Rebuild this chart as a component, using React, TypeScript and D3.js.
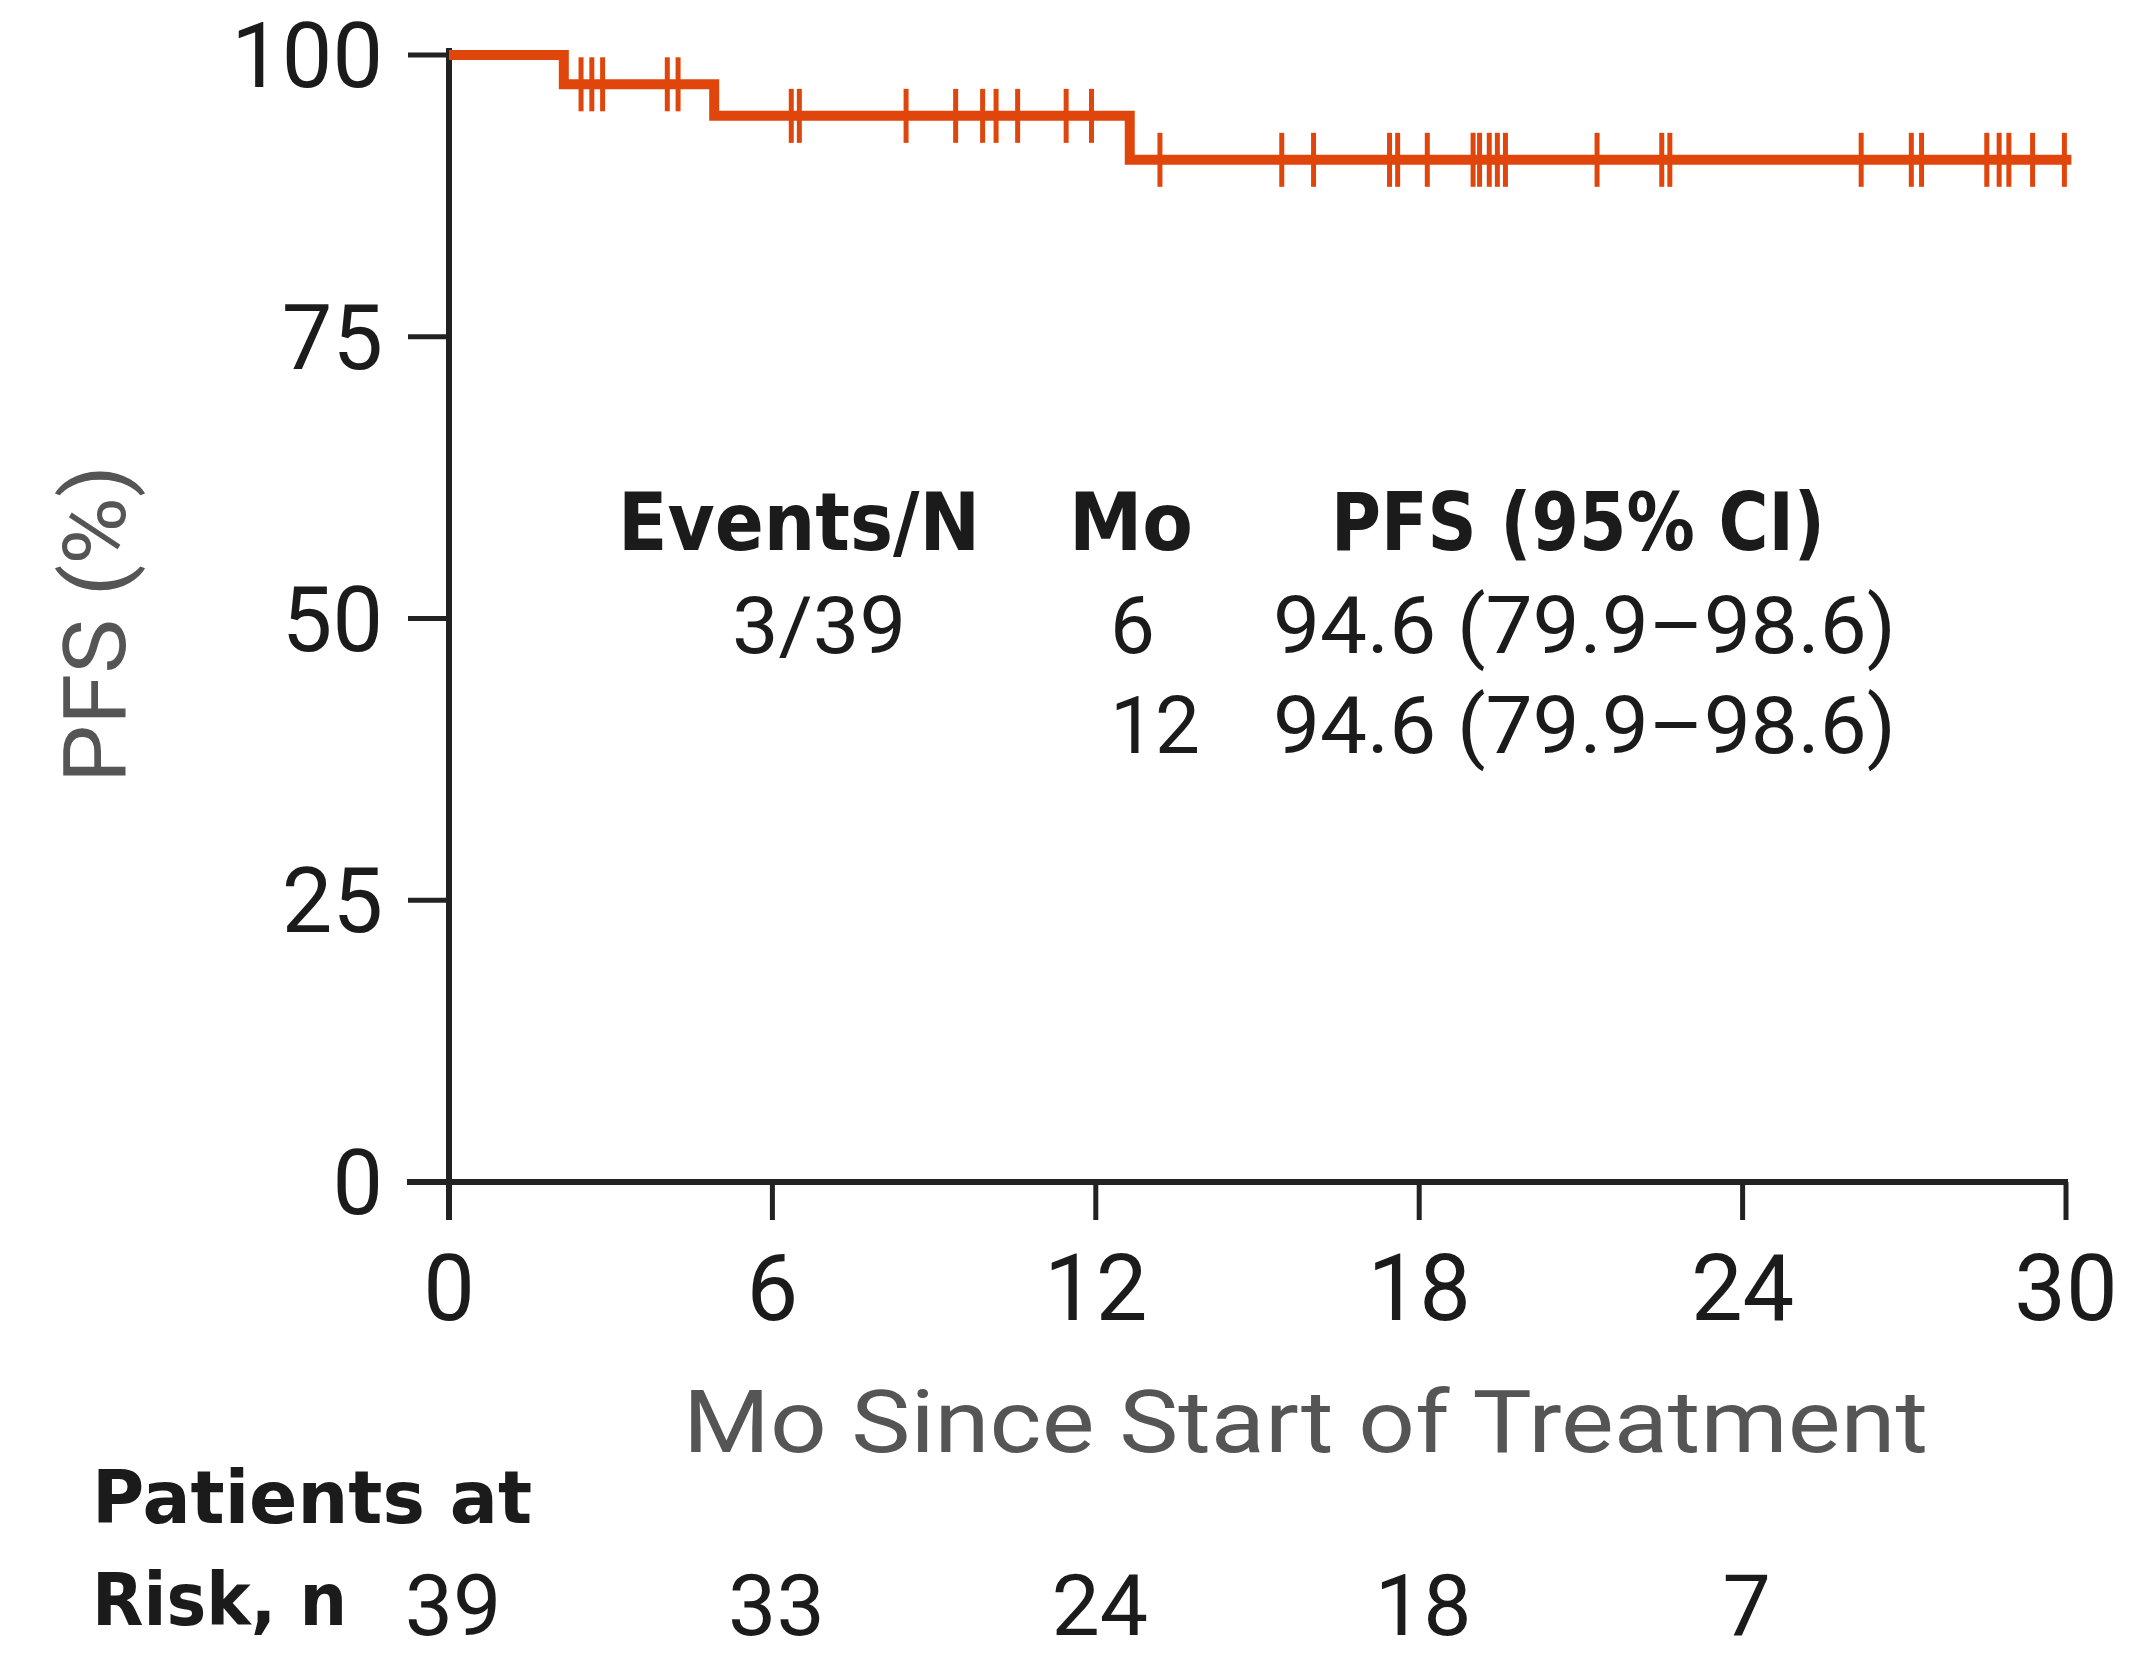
import React from "react";
import * as d3 from "d3";

const xTicks = [0, 6, 12, 18, 24, 30];
const yTicks = [0, 25, 50, 75, 100];
const eventTimes = [2.13, 4.92, 12.63];
const survivalAfterEvent = [97.4, 94.6, 90.7];
const followUpEnd = 30.1;
const censorTimes = [
  2.45, 2.65, 2.85, 4.05, 4.25,
  6.35, 6.5, 8.48, 9.4, 9.9, 10.15, 10.55, 11.45, 11.92,
  13.19, 15.45, 16.04, 17.45, 17.6, 18.15, 19.0, 19.12, 19.3, 19.45, 19.6,
  21.3, 22.5, 22.65, 26.2, 27.13, 27.32, 28.53, 28.76, 28.94, 29.38, 29.97,
];
const riskTimes = [0, 6, 12, 18, 24];
const riskCounts = [39, 33, 24, 18, 7];
const tableHeaders = ["Events/N", "Mo", "PFS (95% CI)"];
const tableEvents = ["3/39"];
const tableMonths = ["6", "12"];
const tablePfs = ["94.6 (79.9–98.6)", "94.6 (79.9–98.6)"];

const ORANGE = "#E0460B";
const AXIS = "#222222";
const TEXT = "#1b1b1b";
const GRAY = "#555555";
const REG = "Roboto, 'Liberation Sans', sans-serif";
const BOLD = "'DejaVu Sans', 'Noto Sans', sans-serif";

export default function App() {
  const x = d3.scaleLinear().domain([0, 30]).range([449, 2066]);
  const y = d3.scaleLinear().domain([0, 100]).range([1182, 55]);

  const survivalAt = (t: number) => {
    let s = 100;
    eventTimes.forEach((et, i) => {
      if (t >= et) s = survivalAfterEvent[i];
    });
    return s;
  };

  const pts: [number, number][] = [[0, 100]];
  eventTimes.forEach((t, i) => pts.push([t, survivalAfterEvent[i]]));
  pts.push([followUpEnd, survivalAfterEvent[survivalAfterEvent.length - 1]]);
  const line = d3
    .line<[number, number]>()
    .x((d) => x(d[0]))
    .y((d) => y(d[1]))
    .curve(d3.curveStepAfter);

  const markHalf = 27;

  return (
    <div>
      <style>{`body{margin:0}`}</style>
      <svg width={2151} height={1658} style={{ display: "block" }}>
        <rect width={2151} height={1658} fill="#ffffff" />
        {yTicks.map((t) => (
          <g key={"y" + t}>
            <line x1={408} x2={x(0)} y1={y(t)} y2={y(t)} stroke={AXIS} strokeWidth={5} />
            <text x={383} y={y(t) + 32} textAnchor="end" fontFamily={REG} fontSize={90} fill={TEXT}>
              {t}
            </text>
          </g>
        ))}
        {xTicks.map((t) => (
          <g key={"x" + t}>
            <line x1={x(t)} x2={x(t)} y1={y(0)} y2={1220} stroke={AXIS} strokeWidth={5} />
            <text x={x(t)} y={1320} textAnchor="middle" fontFamily={REG} fontSize={92} fill={TEXT}>
              {t}
            </text>
          </g>
        ))}
        <line x1={x(0)} x2={x(0)} y1={48} y2={1220} stroke={AXIS} strokeWidth={6} />
        <line x1={407} x2={x(30) + 2} y1={y(0)} y2={y(0)} stroke={AXIS} strokeWidth={6} />

        <path d={line(pts) || ""} fill="none" stroke={ORANGE} strokeWidth={10} strokeLinejoin="miter" />
        {censorTimes.map((t, i) => (
          <line
            key={"c" + i}
            x1={x(t)}
            x2={x(t)}
            y1={y(survivalAt(t)) - markHalf}
            y2={y(survivalAt(t)) + markHalf}
            stroke={ORANGE}
            strokeWidth={5}
          />
        ))}

        <text
          transform="translate(125,624) rotate(-90)"
          textAnchor="middle"
          fontFamily={REG}
          fontSize={88}
          fill={GRAY}
          textLength={318}
          lengthAdjust="spacingAndGlyphs"
        >
          PFS (%)
        </text>
        <text x={683} y={1452} fontFamily={REG} fontSize={88} fill={GRAY} textLength={1245} lengthAdjust="spacingAndGlyphs">
          Mo Since Start of Treatment
        </text>

        <text x={618} y={550} fontFamily={BOLD} fontWeight="bold" fontSize={80} fill={TEXT} textLength={362} lengthAdjust="spacingAndGlyphs">
          {tableHeaders[0]}
        </text>
        <text x={1069} y={550} fontFamily={BOLD} fontWeight="bold" fontSize={80} fill={TEXT} textLength={124} lengthAdjust="spacingAndGlyphs">
          {tableHeaders[1]}
        </text>
        <text x={1331} y={550} fontFamily={BOLD} fontWeight="bold" fontSize={80} fill={TEXT} textLength={494} lengthAdjust="spacingAndGlyphs">
          {tableHeaders[2]}
        </text>
        <text x={732} y={653} fontFamily={REG} fontSize={80} fill={TEXT} textLength={174} lengthAdjust="spacingAndGlyphs">
          {tableEvents[0]}
        </text>
        {tableMonths.map((m, i) => (
          <text key={"m" + i} x={1110} y={653 + i * 100} fontFamily={REG} fontSize={80} fill={TEXT}>
            {m}
          </text>
        ))}
        {tablePfs.map((p, i) => (
          <text
            key={"p" + i}
            x={1273}
            y={653 + i * 100}
            fontFamily={REG}
            fontSize={80}
            fill={TEXT}
            textLength={623}
            lengthAdjust="spacingAndGlyphs"
          >
            {p}
          </text>
        ))}

        <text x={92} y={1523} fontFamily={BOLD} fontWeight="bold" fontSize={73} fill={TEXT} textLength={440} lengthAdjust="spacingAndGlyphs">
          Patients at
        </text>
        <text x={92} y={1625} fontFamily={BOLD} fontWeight="bold" fontSize={73} fill={TEXT} textLength={255} lengthAdjust="spacingAndGlyphs">
          Risk, n
        </text>
        {riskTimes.map((t, i) => (
          <text key={"r" + i} x={x(t) + 4} y={1635} textAnchor="middle" fontFamily={REG} fontSize={86} fill={TEXT}>
            {riskCounts[i]}
          </text>
        ))}
      </svg>
    </div>
  );
}
